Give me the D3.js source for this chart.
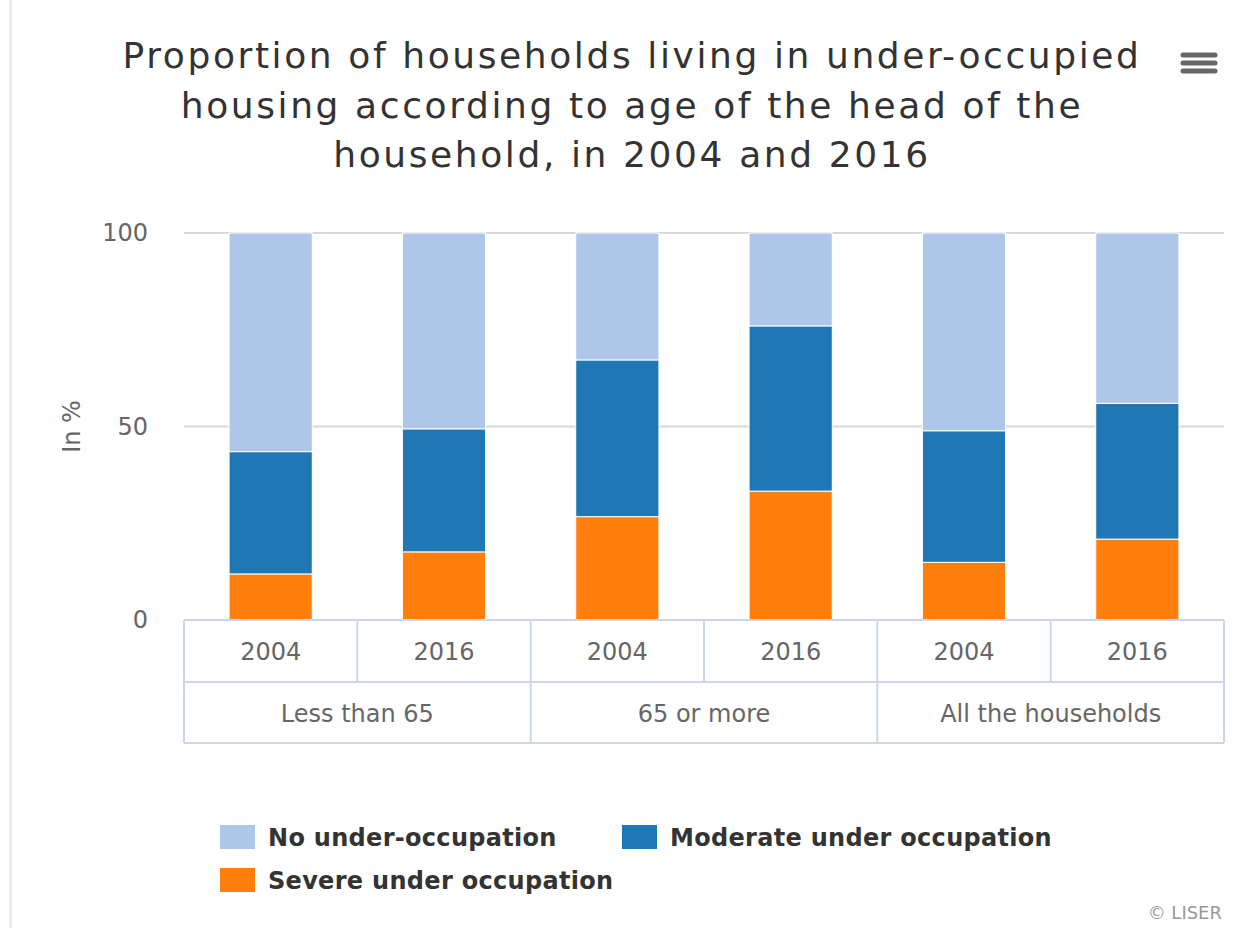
<!DOCTYPE html>
<html>
<head>
<meta charset="utf-8">
<script src="https://cdn.jsdelivr.net/npm/d3@7"></script>
<style>
  body { margin: 0; background: #fff; }
  svg { display: block; font-family: "DejaVu Sans", Verdana, sans-serif; }
</style>
</head>
<body>
<svg width="1244" height="928"></svg>
<script>
var groups = ["Less than 65", "65 or more", "All the households"];
var years = ["2004", "2016"];
var seriesNames = ["No under-occupation", "Moderate under occupation", "Severe under occupation"];
var seriesColors = ["#aec7e8", "#1f77b4", "#ff7f0e"];
// stacked bottom-up: severe, moderate, none
var severe = [11.9, 17.6, 26.7, 33.3, 14.9, 20.9];
var moderate = [31.6, 31.8, 40.5, 42.7, 34.0, 35.1];
var noUnder = [56.5, 50.6, 32.8, 24.0, 51.1, 44.0];
var yTicks = [0, 50, 100];

var svg = d3.select("svg"),
    width = +svg.attr("width"),
    height = +svg.attr("height");

var margin = {top: 233, left: 184, right: 20, bottom: 308};
var plotW = width - margin.left - margin.right,
    plotH = height - margin.top - margin.bottom;

var cats = [];
groups.forEach(function (g, gi) {
    years.forEach(function (y, yi) {
        cats.push({group: g, year: y, i: gi * years.length + yi});
    });
});

var rows = cats.map(function (c) {
    return {key: c.i, severe: severe[c.i], moderate: moderate[c.i], none: noUnder[c.i]};
});

var x = d3.scaleBand()
    .domain(cats.map(function (c) { return c.i; }))
    .range([margin.left, margin.left + plotW])
    .paddingInner(0).paddingOuter(0);

var y = d3.scaleLinear()
    .domain([0, 100])
    .range([margin.top + plotH, margin.top]);

// left edge line of page
svg.append("rect")
    .attr("x", 9).attr("y", 0)
    .attr("width", 3).attr("height", height)
    .attr("fill", "#ebebeb");

// title
var titleLines = ["Proportion of households living in under-occupied",
    "housing according to age of the head of the",
    "household, in 2004 and 2016"];
svg.append("text")
    .attr("text-anchor", "middle")
    .attr("font-size", 36)
    .attr("letter-spacing", 2.6)
    .attr("fill", "#333")
    .selectAll("tspan")
    .data(titleLines)
    .enter().append("tspan")
    .attr("x", 632)
    .attr("y", function (d, i) { return 68 + i * 49.5; })
    .text(function (d) { return d; });

// menu icon
svg.append("g")
    .selectAll("line")
    .data([0, 1, 2])
    .enter().append("line")
    .attr("x1", 1183).attr("x2", 1215)
    .attr("y1", function (d) { return 55 + d * 8; })
    .attr("y2", function (d) { return 55 + d * 8; })
    .attr("stroke", "#666")
    .attr("stroke-width", 5)
    .attr("stroke-linecap", "round");

// grid
svg.append("g")
    .selectAll("line")
    .data(yTicks.filter(function (t) { return t > 0; }))
    .enter().append("line")
    .attr("x1", margin.left).attr("x2", margin.left + plotW)
    .attr("y1", function (d) { return y(d); })
    .attr("y2", function (d) { return y(d); })
    .attr("stroke", "#d8d8d8")
    .attr("stroke-width", 2);

// y axis labels
var yAxis = svg.append("g")
    .attr("transform", "translate(" + (margin.left - 36) + ",0)")
    .call(d3.axisLeft(y).tickValues(yTicks).tickSize(0).tickPadding(0));
yAxis.select(".domain").remove();
yAxis.selectAll("text")
    .attr("font-size", 24)
    .attr("fill", "#666")
    .attr("font-family", "'DejaVu Sans', sans-serif");

svg.append("text")
    .attr("transform", "translate(80," + y(50) + ") rotate(-90)")
    .attr("text-anchor", "middle")
    .attr("font-size", 24)
    .attr("fill", "#666")
    .text("In %");

// stacked bars
var stack = d3.stack().keys(["severe", "moderate", "none"]);
var layers = stack(rows);
var keyColor = {severe: seriesColors[2], moderate: seriesColors[1], none: seriesColors[0]};

var barW = x.bandwidth() * 0.48;
svg.append("g")
    .selectAll("g")
    .data(layers)
    .enter().append("g")
    .attr("fill", function (d) { return keyColor[d.key]; })
    .selectAll("rect")
    .data(function (d) { return d; })
    .enter().append("rect")
    .attr("x", function (d) { return x(d.data.key) + (x.bandwidth() - barW) / 2; })
    .attr("width", barW)
    .attr("y", function (d) { return y(d[1]); })
    .attr("height", function (d) { return y(d[0]) - y(d[1]); })
    .attr("stroke", "#fff")
    .attr("stroke-width", 1);

// grouped category axis (table)
var axisTop = y(0), row1 = axisTop + 62, row2 = row1 + 61;
var axisG = svg.append("g")
    .attr("stroke", "#ccd6eb")
    .attr("stroke-width", 2);
[axisTop, row1, row2].forEach(function (ly) {
    axisG.append("line")
        .attr("x1", margin.left).attr("x2", margin.left + plotW)
        .attr("y1", ly).attr("y2", ly);
});
cats.forEach(function (c, i) {
    var bx = x(c.i);
    var full = (i % years.length === 0);
    axisG.append("line")
        .attr("x1", bx).attr("x2", bx)
        .attr("y1", axisTop).attr("y2", full ? row2 : row1);
});
axisG.append("line")
    .attr("x1", margin.left + plotW).attr("x2", margin.left + plotW)
    .attr("y1", axisTop).attr("y2", row2);

svg.append("g")
    .selectAll("text")
    .data(cats)
    .enter().append("text")
    .attr("x", function (d) { return x(d.i) + x.bandwidth() / 2; })
    .attr("y", (axisTop + row1) / 2 + 9)
    .attr("text-anchor", "middle")
    .attr("font-size", 24)
    .attr("fill", "#666")
    .text(function (d) { return d.year; });

svg.append("g")
    .selectAll("text")
    .data(groups)
    .enter().append("text")
    .attr("x", function (d, gi) {
        return x(gi * years.length) + x.bandwidth() * years.length / 2;
    })
    .attr("y", (row1 + row2) / 2 + 9)
    .attr("text-anchor", "middle")
    .attr("font-size", 24)
    .attr("fill", "#666")
    .text(function (d) { return d; });

// legend
var legendPos = [{x: 220, y: 825}, {x: 622, y: 825}, {x: 220, y: 868}];
var legend = svg.append("g")
    .selectAll("g")
    .data(seriesNames)
    .enter().append("g")
    .attr("transform", function (d, i) {
        return "translate(" + legendPos[i].x + "," + legendPos[i].y + ")";
    });
legend.append("rect")
    .attr("width", 35).attr("height", 24)
    .attr("fill", function (d, i) { return seriesColors[i]; });
legend.append("text")
    .attr("x", 48).attr("y", 21)
    .attr("font-size", 24)
    .attr("letter-spacing", 0.3)
    .attr("font-weight", "bold")
    .attr("fill", "#333")
    .text(function (d) { return d; });

// credits
svg.append("text")
    .attr("x", 1222).attr("y", 919)
    .attr("text-anchor", "end")
    .attr("font-size", 18)
    .attr("fill", "#999")
    .text("\u00a9 LISER");
</script>
</body>
</html>
